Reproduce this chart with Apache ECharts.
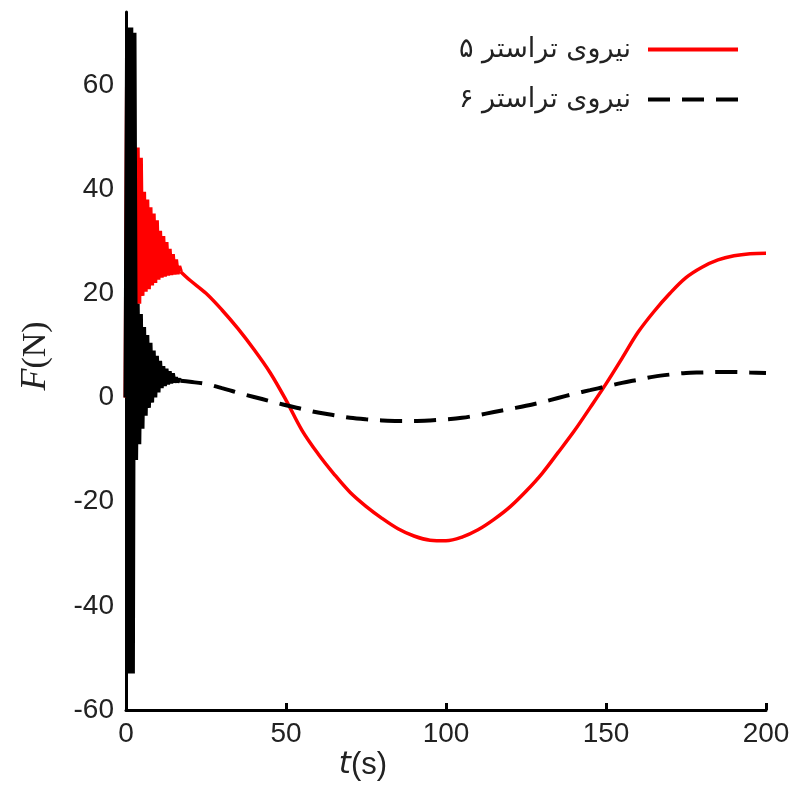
<!DOCTYPE html>
<html>
<head>
<meta charset="utf-8">
<script src="https://cdn.jsdelivr.net/npm/echarts@6/dist/echarts.min.js"></script>
<style>
html,body{margin:0;padding:0;background:#fff;}
#chart{width:805px;height:786px;}
</style>
</head>
<body>
<div id="chart"></div>
<script>
// time samples (s)
const time = [0, 0.5, 1, 1.5, 2, 2.5, 3, 3.5, 4, 4.5, 5, 5.5, 6, 6.5, 7, 7.5, 8, 8.5, 9, 9.5,
  10, 10.5, 11, 11.5, 12, 12.5, 13, 13.5, 14, 14.5, 15, 15.5, 16, 16.5, 17,
  20, 25, 30, 35, 40, 45, 50, 55, 60, 65, 70, 75, 80, 85, 90, 95, 100, 105, 110, 115,
  120, 125, 130, 135, 140, 145, 150, 155, 160, 165, 170, 175, 180, 185, 190, 195, 200];
// thruster 5 force (N)
const force5 = [0, 65, 2, 62, 8, 48, 17, 48, 18, 46, 19.5, 39.5, 20.3, 38, 20.8, 36.5, 21.5, 35.3, 22, 34,
  22.6, 32, 23, 31, 23.2, 29.8, 23.4, 28.5, 23.5, 27.5, 23.6, 26.5, 23.7, 25.2, 24.2,
  22.5, 20, 16.8, 13.2, 9.2, 4.8, -0.5, -6.3, -10.8, -14.7, -18.2, -20.9, -23.2, -25.2, -26.6, -27.4, -27.5, -26.8, -25.4, -23.4,
  -21, -18, -14.6, -10.6, -6.5, -2, 2.6, 7.5, 12.5, 16.5, 20, 23, 25, 26.4, 27.2, 27.6, 27.7];
// thruster 6 force (N)
const force6 = [0, 71, -53, 71, -53, 70, -12, 18, -9, 16, -6, 13.5, -3.5, 12, -2, 10.5, -1, 9, 0, 8,
  1, 7, 1.8, 6, 2.2, 5.5, 2.5, 5, 2.7, 4.6, 2.9, 3.8, 3, 3.4, 3.2,
  3.0, 2.6, 1.8, 0.9, 0.1, -0.7, -1.5, -2.2, -2.9, -3.4, -3.9, -4.2, -4.4, -4.5, -4.5, -4.4, -4.2, -3.9, -3.4, -2.8,
  -2.2, -1.6, -0.9, -0.1, 0.7, 1.4, 2.1, 2.8, 3.4, 4.0, 4.4, 4.7, 4.8, 4.9, 4.9, 4.8, 4.7];
// the fast oscillation lasts until t = 17 s (index of that sample)
const transientEnd = 34;

const seriesNames = ['نیروی تراستر ۵', 'نیروی تراستر ۶'];
const xTicks = {min: 0, max: 200, interval: 50};
const yTicks = {min: -60, max: 74, interval: 20};

const pairs = (vals, from, to) => time.slice(from, to + 1).map((t, i) => [t, vals[from + i]]);
const last = time.length - 1;

const chart = echarts.init(document.getElementById('chart'), null, {renderer: 'canvas'});
const labelFont = {fontSize: 28, color: '#222', fontFamily: 'Liberation Sans'};
chart.setOption({
  animation: false,
  backgroundColor: '#fff',
  grid: {left: 126, right: 39, top: 12, bottom: 76},
  xAxis: {
    type: 'value', min: xTicks.min, max: xTicks.max, interval: xTicks.interval,
    axisLine: {show: true, onZero: false, lineStyle: {color: '#000', width: 3}},
    axisTick: {show: true, inside: true, length: 7, lineStyle: {color: '#000', width: 3}},
    splitLine: {show: false},
    axisLabel: Object.assign({margin: 10}, labelFont)
  },
  yAxis: {
    type: 'value', min: yTicks.min, max: yTicks.max, interval: yTicks.interval,
    axisLine: {show: true, onZero: false, lineStyle: {color: '#000', width: 3}},
    axisTick: {show: true, inside: true, length: 7, lineStyle: {color: '#000', width: 3}},
    splitLine: {show: false},
    axisLabel: Object.assign({margin: 12, showMaxLabel: false}, labelFont)
  },
  legend: {
    orient: 'vertical', right: 60, top: 31, align: 'right',
    itemWidth: 90, itemHeight: 14, itemGap: 23,
    itemStyle: {opacity: 0},
    lineStyle: {width: 4},
    textStyle: {fontSize: 27, color: '#222', fontFamily: 'DejaVu Sans', padding: [0, 12, 0, 0]},
    data: seriesNames
  },
  series: [
    {
      name: 'transient5', type: 'line', data: pairs(force5, 0, transientEnd), symbol: 'none', z: 2,
      lineStyle: {color: '#ff0000', width: 5, join: 'bevel'}, itemStyle: {color: '#ff0000'}
    },
    {
      name: seriesNames[0], type: 'line', data: pairs(force5, transientEnd, last), symbol: 'none', z: 2,
      smooth: 0.35,
      lineStyle: {color: '#ff0000', width: 3.5}, itemStyle: {color: '#ff0000'}
    },
    {
      name: 'transient6', type: 'line', data: pairs(force6, 0, transientEnd), symbol: 'none', z: 3,
      lineStyle: {color: '#000', width: 5, join: 'bevel'}, itemStyle: {color: '#000'}
    },
    {
      name: seriesNames[1], type: 'line', data: pairs(force6, transientEnd, last), symbol: 'none', z: 3,
      smooth: 0.35,
      lineStyle: {color: '#000', width: 4, type: [22, 12]}, itemStyle: {color: '#000'}
    }
  ],
  graphic: [
    {
      type: 'text', x: 36, y: 356, rotation: Math.PI / 2,
      style: {
        text: '{i|F}{r|(N)}', align: 'center', verticalAlign: 'middle',
        rich: {
          i: {fontFamily: 'Liberation Serif', fontStyle: 'italic', fontSize: 36, fill: '#222'},
          r: {fontFamily: 'Liberation Serif', fontSize: 34, fill: '#222'}
        }
      }
    },
    {
      type: 'text', x: 363, y: 765,
      style: {
        text: '{i|t}{r|(s)}', align: 'center', verticalAlign: 'middle',
        rich: {
          i: {fontFamily: 'DejaVu Sans', fontStyle: 'italic', fontSize: 31, fill: '#222'},
          r: {fontFamily: 'Liberation Sans', fontSize: 31, fill: '#222'}
        }
      }
    }
  ]
});
</script>
</body>
</html>
